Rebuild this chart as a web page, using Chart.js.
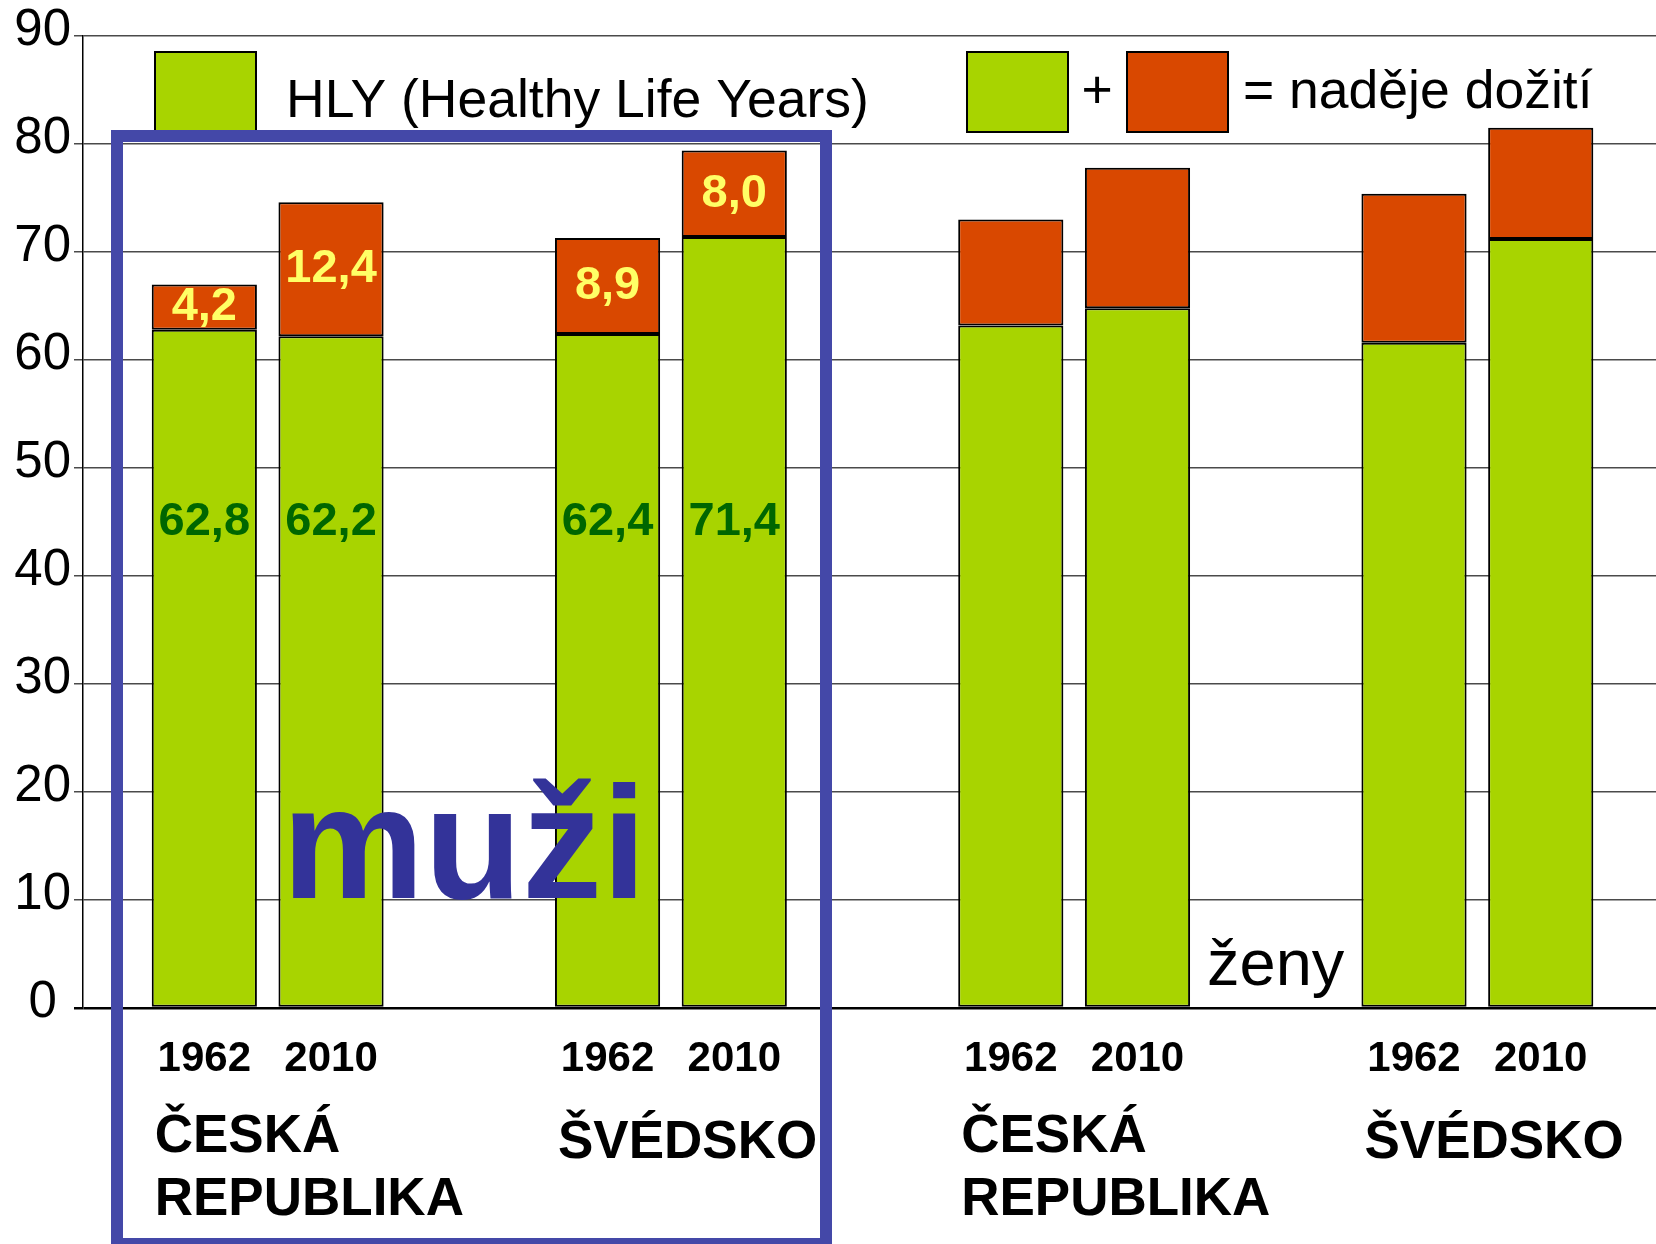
<!DOCTYPE html>
<html>
<head>
<meta charset="utf-8">
<script src="https://cdn.jsdelivr.net/npm/chart.js@4.4.1/dist/chart.umd.min.js"></script>
<style>
  html, body { margin: 0; padding: 0; background: #fff; }
  canvas { display: block; }
</style>
</head>
<body>
<canvas id="hlyChart" width="1656" height="1244"></canvas>
<script>
// muži (first two groups) and ženy (last two)
const countries = ['ČESKÁ\nREPUBLIKA', 'ŠVÉDSKO', 'ČESKÁ\nREPUBLIKA', 'ŠVÉDSKO'];
const years = ['1962', '2010'];
const hly1962 = [62.8, 62.4, 63.2, 61.6];
const rest1962 = [4.2, 8.9, 9.8, 13.8];
const hly2010 = [62.2, 71.4, 64.8, 71.2];
const rest2010 = [12.4, 8.0, 13.0, 10.3];
const showValues = [true, true, false, false];
const yTicks = [0, 10, 20, 30, 40, 50, 60, 70, 80, 90];

const GREEN = '#a8d400';
const RED = '#d94800';
const FONT = '"Liberation Sans", Arial, sans-serif';

function points(values) {
    return values.map((v, i) => ({x: i, y: v}));
}

function fmt(v) {
    return v.toFixed(1).replace('.', ',');
}

const drawPlugin = {
    id: 'hlyDecor',
    afterDraw(chart) {
        const ctx = chart.ctx;
        const yScale = chart.scales.y;
        const bottom = chart.chartArea.bottom;
        ctx.save();

        // legend boxes
        ctx.lineWidth = 2;
        ctx.strokeStyle = '#000';
        [[155, GREEN], [967, GREEN], [1127, RED]].forEach(([x, c]) => {
            ctx.fillStyle = c;
            ctx.fillRect(x, 52, 101, 80);
            ctx.strokeRect(x, 52, 101, 80);
        });
        ctx.fillStyle = '#000';
        ctx.font = '53.5px ' + FONT;
        ctx.textBaseline = 'alphabetic';
        ctx.textAlign = 'left';
        ctx.fillText('HLY (Healthy Life Years)', 286, 117);
        ctx.fillText('= naděje dožití', 1243, 108);
        ctx.textAlign = 'center';
        ctx.fillText('+', 1097, 108);

        // values inside bars
        ctx.font = 'bold 47px ' + FONT;
        ctx.textBaseline = 'middle';
        [[0, 1], [2, 3]].forEach(([gi, ri]) => {
            const gMeta = chart.getDatasetMeta(gi);
            const rMeta = chart.getDatasetMeta(ri);
            const gData = chart.data.datasets[gi].data;
            const rData = chart.data.datasets[ri].data;
            gMeta.data.forEach((bar, i) => {
                if (!showValues[i]) return;
                ctx.fillStyle = '#006600';
                ctx.fillText(fmt(gData[i].y), bar.x, yScale.getPixelForValue(45));
                const rb = rMeta.data[i];
                ctx.fillStyle = '#ffff66';
                ctx.fillText(fmt(rData[i].y), rb.x, (rb.y + rb.base) / 2);
            });
        });

        // years and country names
        ctx.fillStyle = '#000';
        ctx.textBaseline = 'alphabetic';
        ctx.font = 'bold 42px ' + FONT;
        [0, 2].forEach((di, k) => {
            chart.getDatasetMeta(di).data.forEach(bar => {
                ctx.fillText(years[k], bar.x, bottom + 63);
            });
        });
        ctx.textAlign = 'left';
        ctx.font = 'bold 53px ' + FONT;
        chart.getDatasetMeta(0).data.forEach((bar, i) => {
            const lines = countries[i].split('\n');
            const left = bar.x - bar.width / 2 + 3;
            const y0 = lines.length > 1 ? bottom + 144 : bottom + 150;
            lines.forEach((line, j) => ctx.fillText(line, left, y0 + j * 63));
        });

        ctx.font = '65px ' + FONT;
        ctx.fillText('ženy', 1207, 985);

        ctx.fillStyle = '#333399';
        ctx.font = 'bold 160px ' + FONT;
        ctx.fillText('muži', 282, 898);

        // frame around the men
        ctx.strokeStyle = '#4448a8';
        ctx.lineWidth = 12;
        ctx.strokeRect(117, 136, 709, 1108);

        ctx.restore();
    }
};

const barStyle = {
    borderColor: '#000',
    borderWidth: 2,
    borderSkipped: false,
    categoryPercentage: 0.6285,
    barPercentage: 0.83
};

new Chart(document.getElementById('hlyChart'), {
    type: 'bar',
    data: {
        datasets: [
            Object.assign({label: 'HLY 1962', data: points(hly1962), backgroundColor: GREEN, stack: '1962'}, barStyle),
            Object.assign({label: 'rest 1962', data: points(rest1962), backgroundColor: RED, stack: '1962'}, barStyle),
            Object.assign({label: 'HLY 2010', data: points(hly2010), backgroundColor: GREEN, stack: '2010'}, barStyle),
            Object.assign({label: 'rest 2010', data: points(rest2010), backgroundColor: RED, stack: '2010'}, barStyle)
        ]
    },
    options: {
        responsive: false,
        animation: false,
        devicePixelRatio: 1,
        layout: {padding: {top: 36, bottom: 236, left: 0, right: 0}},
        plugins: {
            legend: {display: false},
            tooltip: {enabled: false}
        },
        scales: {
            x: {
                type: 'linear',
                display: false,
                offset: false,
                stacked: true,
                min: -0.458,
                max: 3.443,
                afterBuildTicks: s => { s.ticks = countries.map((c, i) => ({value: i})); }
            },
            y: {
                stacked: true,
                min: 0,
                max: 90,
                afterFit: s => { s.width = 83; },
                afterBuildTicks: s => { s.ticks = yTicks.map(v => ({value: v})); },
                border: {color: '#000', width: 1.5},
                grid: {
                    color: ctx => ctx.tick && ctx.tick.value === 0 ? '#000' : '#4a4a4a',
                    lineWidth: ctx => ctx.tick && ctx.tick.value === 0 ? 2.5 : 1.5,
                    tickLength: 9
                },
                ticks: {
                    color: '#000',
                    font: {family: FONT, size: 51},
                    crossAlign: 'center',
                    padding: 3,
                    labelOffset: -5
                }
            }
        }
    },
    plugins: [drawPlugin]
});
</script>
</body>
</html>
